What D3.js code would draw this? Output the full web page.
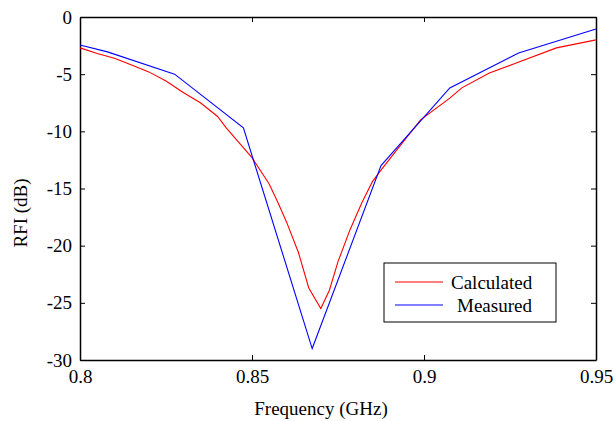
<!DOCTYPE html>
<html>
<head>
<meta charset="utf-8">
<script src="https://cdn.jsdelivr.net/npm/d3@7"></script>
<style>
  body { margin: 0; background: #fff; }
  text { font-family: "Liberation Serif", "Times New Roman", serif; }
</style>
</head>
<body>
<div id="chart"></div>
<script>
// Data
const calcFreq = [0.800, 0.805, 0.810, 0.815, 0.820, 0.825, 0.8275, 0.830, 0.835, 0.840, 0.8425,
                  0.850, 0.855, 0.8575, 0.860, 0.8635, 0.8665, 0.870, 0.8725, 0.875, 0.8785,
                  0.882, 0.885, 0.888, 0.894, 0.899, 0.9075, 0.911, 0.919, 0.927, 0.9385, 0.950];
const calcRfi  = [-2.7, -3.2, -3.6, -4.2, -4.8, -5.6, -6.1, -6.6, -7.5, -8.7, -9.7,
                  -12.3, -14.6, -16.2, -17.9, -20.6, -23.7, -25.5, -23.9, -21.4, -18.6,
                  -16.2, -14.4, -13.2, -10.9, -9.0, -7.1, -6.2, -4.9, -4.0, -2.7, -2.0];

const measFreq = [0.800, 0.808, 0.8275, 0.8475, 0.8675, 0.8875, 0.9075, 0.9275, 0.950];
const measRfi  = [-2.45, -3.05, -5.0, -9.7, -29.0, -13.0, -6.2, -3.15, -1.05];

const xTicks = [0.8, 0.85, 0.9, 0.95];
const xTickLabels = ["0.8", "0.85", "0.9", "0.95"];
const yTicks = [0, -5, -10, -15, -20, -25, -30];

const width = 616, height = 421;
const margin = {top: 17, right: 20, bottom: 61, left: 80};
const serif = '"Liberation Serif", "Times New Roman", serif';

const svg = d3.select("#chart")
              .append("svg")
                .attr("width", width)
                .attr("height", height);

const x = d3.scaleLinear()
            .domain([0.8, 0.95])
            .range([margin.left, width - margin.right]);

const y = d3.scaleLinear()
            .domain([-30, 0])
            .range([height - margin.bottom, margin.top]);

// Axes (ticks point inward)
const fontSize = 19;

svg.append("g")
   .attr("transform", `translate(0, ${y(-30)})`)
   .call(d3.axisBottom(x).tickValues(xTicks)
           .tickFormat((d, i) => xTickLabels[i])
           .tickSize(-5).tickSizeOuter(0).tickPadding(10));

svg.append("g")
   .attr("transform", `translate(${x(0.8)}, 0)`)
   .call(d3.axisLeft(y).tickValues(yTicks)
           .tickFormat(d => d === 0 ? "0" : "-" + Math.abs(d))
           .tickSize(-5).tickSizeOuter(0).tickPadding(8));

svg.append("g")
   .attr("transform", `translate(0, ${y(0)})`)
   .call(d3.axisTop(x).tickValues(xTicks).tickFormat("")
           .tickSize(-5).tickSizeOuter(0));

svg.append("g")
   .attr("transform", `translate(${x(0.95)}, 0)`)
   .call(d3.axisRight(y).tickValues(yTicks).tickFormat("")
           .tickSize(-5).tickSizeOuter(0));

svg.selectAll(".domain")
   .attr("stroke", "#000")
   .attr("stroke-width", 1.5);
svg.selectAll(".tick line")
   .attr("stroke", "#000");
svg.selectAll(".tick text")
   .style("font-family", serif)
   .style("font-size", fontSize + "px")
   .attr("fill", "#000");

// Lines
const line = d3.line()
               .x(d => x(d[0]))
               .y(d => y(d[1]));

svg.append("path")
   .datum(calcFreq.map((f, i) => [f, calcRfi[i]]))
   .attr("fill", "none")
   .attr("stroke", "#ff0000")
   .attr("stroke-width", 1.1)
   .attr("d", line);

svg.append("path")
   .datum(measFreq.map((f, i) => [f, measRfi[i]]))
   .attr("fill", "none")
   .attr("stroke", "#0000ff")
   .attr("stroke-width", 1.1)
   .attr("d", line);

// Axis titles
svg.append("text")
   .attr("x", 321)
   .attr("y", 415)
   .attr("text-anchor", "middle")
   .style("font-family", serif)
   .style("font-size", fontSize + "px")
   .text("Frequency (GHz)");

svg.append("text")
   .attr("transform", `translate(27, 213) rotate(-90)`)
   .attr("text-anchor", "middle")
   .style("font-family", serif)
   .style("font-size", fontSize + "px")
   .text("RFI (dB)");

// Legend
const legend = svg.append("g");
legend.append("rect")
      .attr("x", 384).attr("y", 263)
      .attr("width", 172).attr("height", 59)
      .attr("fill", "#fff")
      .attr("stroke", "#000")
      .attr("stroke-width", 1);

const items = [
  {label: "Calculated", color: "#ff0000", yy: 282, tx: 451},
  {label: "Measured", color: "#0000ff", yy: 305, tx: 457}
];
items.forEach(it => {
  legend.append("line")
        .attr("x1", 395).attr("x2", 443)
        .attr("y1", it.yy).attr("y2", it.yy)
        .attr("stroke", it.color)
        .attr("stroke-width", 1.1);
  legend.append("text")
        .attr("x", it.tx).attr("y", it.yy)
        .attr("dy", "0.35em")
        .style("font-family", serif)
        .style("font-size", fontSize + "px")
        .text(it.label);
});
</script>
</body>
</html>
